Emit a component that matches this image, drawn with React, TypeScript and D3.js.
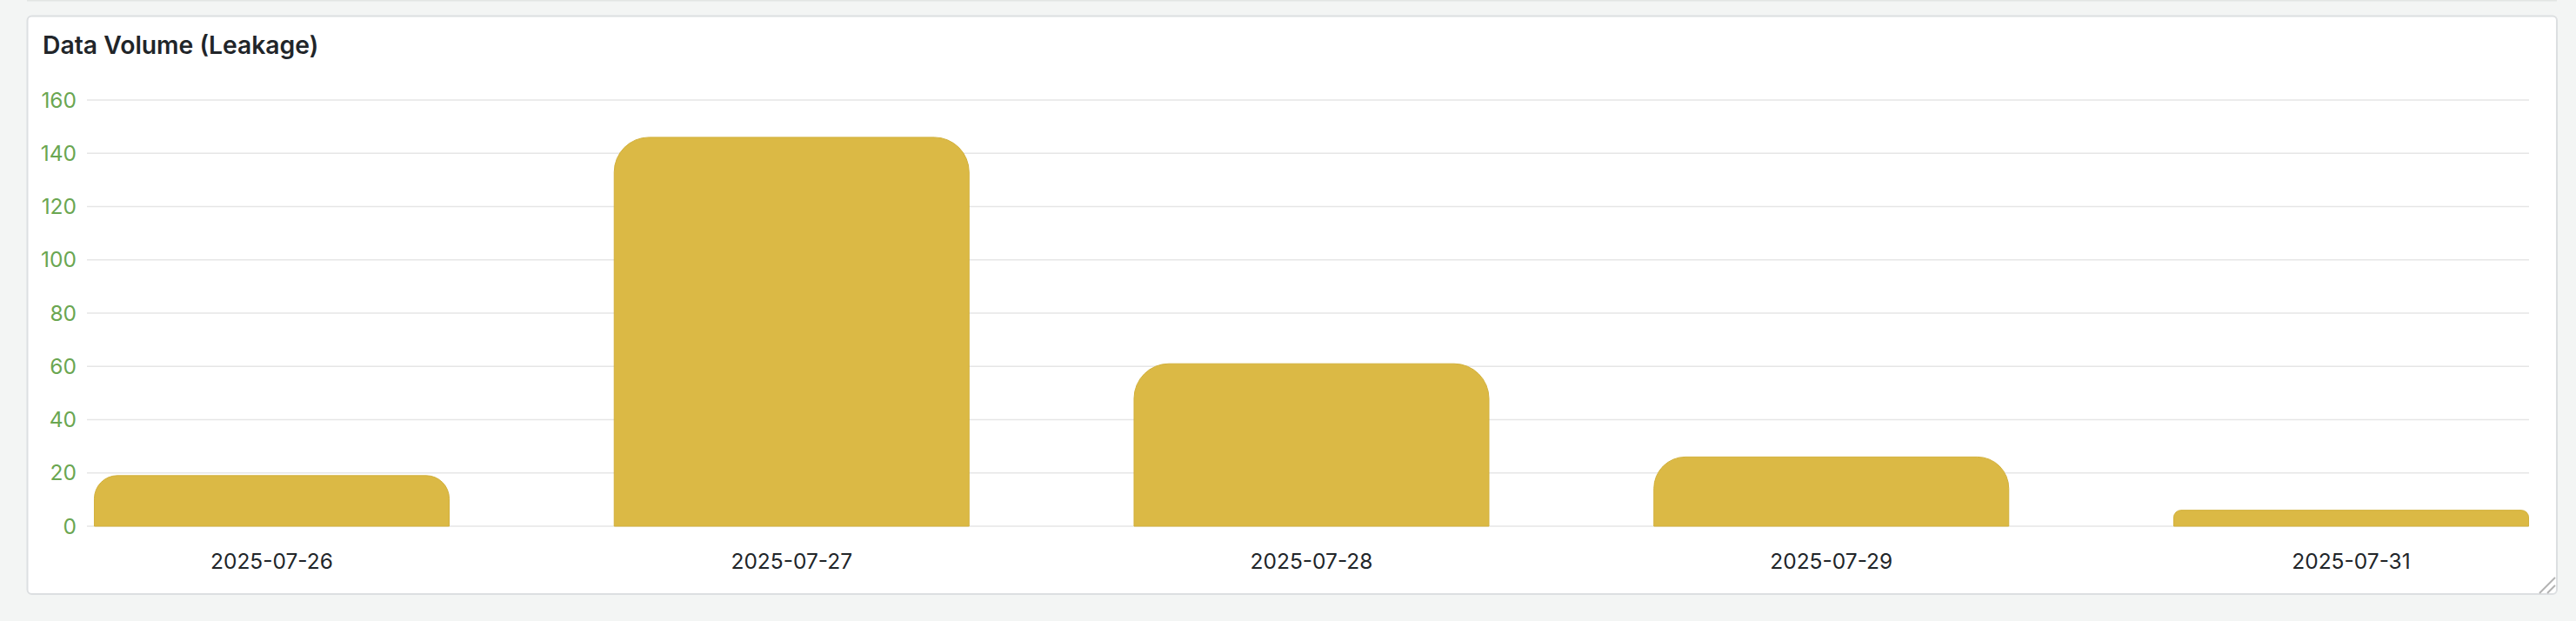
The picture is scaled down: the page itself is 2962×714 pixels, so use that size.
import React from "react";
import * as d3 from "d3";

const categories = ["2025-07-26", "2025-07-27", "2025-07-28", "2025-07-29", "2025-07-31"];
const values = [19, 146, 61, 26, 6];
const yTicks = [0, 20, 40, 60, 80, 100, 120, 140, 160];
const title = "Data Volume (Leakage)";

const W = 2962;
const H = 714;
const FONT = "Inter, 'Noto Sans', sans-serif";

function barPath(x: number, y: number, w: number, h: number, r: number) {
  const rr = Math.max(0, Math.min(r, h / 2.2, w / 2));
  const p = d3.path();
  p.moveTo(x, y + h);
  p.lineTo(x, y + rr);
  p.arcTo(x, y, x + rr, y, rr);
  p.lineTo(x + w - rr, y);
  p.arcTo(x + w, y, x + w, y + rr, rr);
  p.lineTo(x + w, y + h);
  p.closePath();
  return p.toString();
}

export default function App() {
  const x = d3
    .scaleBand<string>()
    .domain(categories)
    .range([104, 2912])
    .paddingInner(0.3174)
    .paddingOuter(0.0075);
  const y = d3.scaleLinear().domain([0, 160]).range([605, 115]);
  const gridX0 = 100;
  const gridX1 = 2908;

  return (
    <svg
      width={W}
      height={H}
      viewBox={`0 0 ${W} ${H}`}
      style={{ position: "absolute", left: 0, top: 0, display: "block" }}
    >
      <rect x={0} y={0} width={W} height={H} fill="#f3f5f4" />
      <line x1={31} x2={2940} y1={0.75} y2={0.75} stroke="#e2e5e3" strokeWidth={1.5} />
      <rect
        x={31.5}
        y={18.5}
        width={2908.5}
        height={664.5}
        rx={5}
        ry={5}
        fill="#ffffff"
        stroke="#dcdfe1"
        strokeWidth={2}
      />
      <text
        x={49}
        y={61.5}
        fontFamily={FONT}
        fontSize={28.3}
        fontWeight={600}
        fill="#212529"
      >
        {title}
      </text>
      {yTicks.map((t) => (
        <g key={t}>
          <line
            x1={gridX0}
            x2={gridX1}
            y1={y(t)}
            y2={y(t)}
            stroke="#e6e6e6"
            strokeWidth={1.5}
          />
          <text
            x={88}
            y={y(t)}
            dy="0.35em"
            textAnchor="end"
            fontFamily={FONT}
            fontSize={24.5}
            fill="#6aa651"
          >
            {t}
          </text>
        </g>
      ))}
      {categories.map((c, i) => {
        const bx = x(c) as number;
        const bw = x.bandwidth();
        const by = y(values[i]);
        const bh = y(0) - by;
        return (
          <g key={c}>
            <path
              d={barPath(bx, by, bw, bh, 40)}
              fill="#dbb945"
              stroke="#d2b03b"
              strokeWidth={1}
            />
            <text
              x={bx + bw / 2}
              y={654}
              textAnchor="middle"
              fontFamily={FONT}
              fontSize={24.5}
              fill="#212529"
            >
              {c}
            </text>
          </g>
        );
      })}
      <line x1={2920} y1={682} x2={2938} y2={664} stroke="#b3b3b3" strokeWidth={2} />
      <line x1={2929} y1={682} x2={2938} y2={673} stroke="#b3b3b3" strokeWidth={2} />
    </svg>
  );
}
